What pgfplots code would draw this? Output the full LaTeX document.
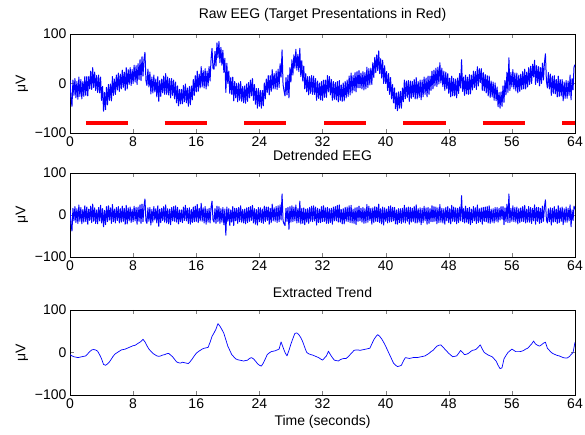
\documentclass[border=0pt]{standalone}
\usepackage{fontspec}
\setmainfont{Liberation Sans}
\usepackage{pgfplots}
\usepackage{pgfplotstable}
\pgfplotsset{compat=1.18}

% extracted trend (uV), every 0.25 s
\pgfplotstableread[row sep=\\]{
t T\\
0 -5\\ 0.25 -8\\ 0.5 -10\\ 0.75 -11\\
1 -12\\ 1.25 -11\\ 1.5 -10\\ 1.75 -9\\
2 -8\\ 2.25 -3\\ 2.5 2\\ 2.75 6\\
3 7\\ 3.25 6\\ 3.5 3\\ 3.75 -5\\
4 -15\\ 4.25 -28\\ 4.5 -30\\ 4.75 -27\\
5 -22\\ 5.25 -15\\ 5.5 -8\\ 5.75 -3\\
6 0\\ 6.25 3\\ 6.5 6\\ 6.75 7\\
7 8\\ 7.25 10\\ 7.5 12\\ 7.75 14\\
8 16\\ 8.25 17\\ 8.5 20\\ 8.75 23\\
9 26\\ 9.25 31\\ 9.5 25\\ 9.75 16\\
10 8\\ 10.25 3\\ 10.5 -2\\ 10.75 -5\\
11 -8\\ 11.25 -9\\ 11.5 -8\\ 11.75 -6\\
12 -5\\ 12.25 -3\\ 12.5 -2\\ 12.75 -6\\
13 -10\\ 13.25 -16\\ 13.5 -22\\ 13.75 -24\\
14 -25\\ 14.25 -23\\ 14.5 -24\\ 14.75 -25\\
15 -26\\ 15.25 -21\\ 15.5 -15\\ 15.75 -8\\
16 -2\\ 16.25 2\\ 16.5 5\\ 16.75 8\\
17 10\\ 17.25 11\\ 17.5 12\\ 17.75 24\\
18 38\\ 18.25 46\\ 18.5 55\\ 18.75 68\\
19 62\\ 19.25 54\\ 19.5 45\\ 19.75 30\\
20 15\\ 20.25 5\\ 20.5 -5\\ 20.75 -10\\
21 -15\\ 21.25 -17\\ 21.5 -18\\ 21.75 -19\\
22 -20\\ 22.25 -19\\ 22.5 -18\\ 22.75 -14\\
23 -12\\ 23.25 -15\\ 23.5 -20\\ 23.75 -26\\
24 -30\\ 24.25 -32\\ 24.5 -25\\ 24.75 -15\\
25 -5\\ 25.25 -1\\ 25.5 2\\ 25.75 3\\
26 4\\ 26.25 6\\ 26.5 8\\ 26.75 25\\
27 12\\ 27.25 0\\ 27.5 -8\\ 27.75 5\\
28 20\\ 28.25 33\\ 28.5 45\\ 28.75 46\\
29 42\\ 29.25 35\\ 29.5 25\\ 29.75 12\\
30 0\\ 30.25 -3\\ 30.5 -5\\ 30.75 -6\\
31 -8\\ 31.25 -10\\ 31.5 -12\\ 31.75 -15\\
32 -18\\ 32.25 -13\\ 32.5 -8\\ 32.75 3\\
33 -5\\ 33.25 -12\\ 33.5 -18\\ 33.75 -19\\
34 -20\\ 34.25 -17\\ 34.5 -15\\ 34.75 -14\\
35 -14\\ 35.25 -10\\ 35.5 -5\\ 35.75 0\\
36 5\\ 36.25 6\\ 36.5 6\\ 36.75 5\\
37 6\\ 37.25 7\\ 37.5 8\\ 37.75 9\\
38 10\\ 38.25 20\\ 38.5 30\\ 38.75 37\\
39 42\\ 39.25 38\\ 39.5 32\\ 39.75 24\\
40 15\\ 40.25 5\\ 40.5 -5\\ 40.75 -15\\
41 -25\\ 41.25 -30\\ 41.5 -33\\ 41.75 -32\\
42 -30\\ 42.25 -20\\ 42.5 -12\\ 42.75 -13\\
43 -14\\ 43.25 -13\\ 43.5 -12\\ 43.75 -12\\
44 -12\\ 44.25 -11\\ 44.5 -10\\ 44.75 -9\\
45 -8\\ 45.25 -5\\ 45.5 -2\\ 45.75 2\\
46 5\\ 46.25 10\\ 46.5 15\\ 46.75 17\\
47 18\\ 47.25 13\\ 47.5 8\\ 47.75 3\\
48 -2\\ 48.25 -6\\ 48.5 -10\\ 48.75 -9\\
49 -8\\ 49.25 -2\\ 49.5 5\\ 49.75 0\\
50 -5\\ 50.25 -4\\ 50.5 -2\\ 50.75 2\\
51 5\\ 51.25 6\\ 51.5 8\\ 51.75 13\\
52 18\\ 52.25 8\\ 52.5 0\\ 52.75 -3\\
53 -6\\ 53.25 -8\\ 53.5 -10\\ 53.75 -15\\
54 -20\\ 54.25 -30\\ 54.5 -38\\ 54.75 -36\\
55 -15\\ 55.25 -7\\ 55.5 0\\ 55.75 4\\
56 8\\ 56.25 5\\ 56.5 2\\ 56.75 2\\
57 2\\ 57.25 3\\ 57.5 5\\ 57.75 8\\
58 10\\ 58.25 15\\ 58.5 20\\ 58.75 27\\
59 20\\ 59.25 17\\ 59.5 15\\ 59.75 18\\
60 22\\ 60.25 24\\ 60.5 10\\ 60.75 5\\
61 0\\ 61.25 -3\\ 61.5 -5\\ 61.75 -7\\
62 -8\\ 62.25 -10\\ 62.5 -12\\ 62.75 -13\\
63 -13\\ 63.25 -10\\ 63.5 -5\\ 63.75 0\\
64 24\\
}\trend

% N = detrended EEG, R = raw EEG (uV), every 0.125 s
\pgfplotstableread[row sep=\\]{
t N R\\
0 12 7\\ 0.125 -22 -28\\ 0.25 -38 -46\\ 0.375 16 7\\ 0.5 -14 -24\\ 0.625 20 10\\ 0.75 -18 -29\\ 0.875 15 4\\
1 -20 -32\\ 1.125 24 13\\ 1.25 -15 -26\\ 1.375 18 8\\ 1.5 -21 -31\\ 1.625 13 4\\ 1.75 -17 -26\\ 1.875 22 14\\
2 -16 -24\\ 2.125 19 14\\ 2.25 -22 -25\\ 2.375 14 14\\ 2.5 -13 -11\\ 2.625 21 25\\ 2.75 -18 -12\\ 2.875 26 32\\
3 -15 -8\\ 3.125 17 23\\ 3.25 -20 -14\\ 3.375 12 16\\ 3.5 -21 -18\\ 3.625 18 17\\ 3.75 -14 -19\\ 3.875 23 13\\
4 -19 -34\\ 4.125 15 -6\\ 4.25 -28 -56\\ 4.375 11 -18\\ 4.5 -23 -53\\ 4.625 20 -8\\ 4.75 -16 -43\\ 4.875 22 -2\\
5 -12 -34\\ 5.125 17 -1\\ 5.25 -20 -35\\ 5.375 25 14\\ 5.5 -16 -24\\ 5.625 14 9\\ 5.75 -19 -22\\ 5.875 18 17\\
6 -13 -13\\ 6.125 20 21\\ 6.25 -19 -16\\ 6.375 15 19\\ 6.5 -17 -11\\ 6.625 21 27\\ 6.75 -15 -8\\ 6.875 16 23\\
7 -22 -14\\ 7.125 23 32\\ 7.25 -21 -11\\ 7.375 17 28\\ 7.5 -14 -2\\ 7.625 19 32\\ 7.75 -18 -4\\ 7.875 13 28\\
8 -16 0\\ 8.125 21 37\\ 8.25 -14 3\\ 8.375 18 36\\ 8.5 -22 -2\\ 8.625 19 40\\ 8.75 -15 8\\ 8.875 24 48\\
9 -20 6\\ 9.125 26 54\\ 9.25 -16 15\\ 9.375 21 49\\ 9.5 38 63\\ 9.625 -14 6\\ 9.75 -20 -4\\ 9.875 17 29\\
10 -15 -7\\ 10.125 18 23\\ 10.25 -24 -21\\ 10.375 13 13\\ 10.5 -17 -19\\ 10.625 20 17\\ 10.75 -12 -17\\ 10.875 15 9\\
11 -19 -27\\ 11.125 22 14\\ 11.25 -27 -36\\ 11.375 14 6\\ 11.5 -18 -26\\ 11.625 16 9\\ 11.75 -13 -19\\ 11.875 20 15\\
12 -17 -22\\ 12.125 24 20\\ 12.25 -19 -22\\ 12.375 15 13\\ 12.5 -21 -23\\ 12.625 14 10\\ 12.75 -23 -29\\ 12.875 18 10\\
13 -14 -24\\ 13.125 20 7\\ 13.25 -15 -31\\ 13.375 22 3\\ 13.5 -17 -39\\ 13.625 18 -5\\ 13.75 -21 -45\\ 13.875 12 -12\\
14 -16 -41\\ 14.125 12 -12\\ 14.25 -18 -41\\ 14.375 19 -4\\ 14.5 -13 -37\\ 14.625 23 -1\\ 14.75 -14 -39\\ 14.875 16 -9\\
15 -20 -46\\ 15.125 17 -6\\ 15.25 -22 -43\\ 15.375 13 -5\\ 15.5 -18 -33\\ 15.625 19 8\\ 15.75 -16 -24\\ 15.875 21 16\\
16 -15 -17\\ 16.125 25 25\\ 16.25 -18 -16\\ 16.375 16 19\\ 16.5 -14 -9\\ 16.625 28 34\\ 16.75 -15 -7\\ 16.875 17 26\\
17 -19 -9\\ 17.125 20 30\\ 17.25 -22 -11\\ 17.375 14 25\\ 17.5 -17 -5\\ 17.625 16 34\\ 17.75 -19 5\\ 17.875 18 49\\
18 33 71\\ 18.125 -12 30\\ 18.25 -17 29\\ 18.375 15 65\\ 18.5 -20 35\\ 18.625 21 82\\ 18.75 -16 52\\ 18.875 20 85\\
19 -20 42\\ 19.125 15 73\\ 19.25 -17 37\\ 19.375 18 67\\ 19.5 -23 22\\ 19.625 14 51\\ 19.75 -48 -18\\ 19.875 19 41\\
20 -15 0\\ 20.125 15 25\\ 20.25 -25 -20\\ 20.375 12 12\\ 20.5 -17 -22\\ 20.625 20 13\\ 20.75 -25 -35\\ 20.875 16 4\\
21 -14 -29\\ 21.125 16 0\\ 21.25 -20 -37\\ 21.375 18 1\\ 21.5 -16 -34\\ 21.625 22 4\\ 21.75 -17 -36\\ 21.875 13 -6\\
22 -19 -39\\ 22.125 14 -5\\ 22.25 -21 -40\\ 22.375 17 -1\\ 22.5 -18 -36\\ 22.625 18 2\\ 22.75 -15 -29\\ 22.875 20 7\\
23 -13 -25\\ 23.125 23 10\\ 23.25 -19 -34\\ 23.375 15 -2\\ 23.5 -22 -42\\ 23.625 13 -10\\ 23.75 -24 -50\\ 23.875 18 -10\\
24 -16 -46\\ 24.125 17 -14\\ 24.25 -18 -50\\ 24.375 14 -14\\ 24.5 -20 -45\\ 24.625 21 1\\ 24.75 -16 -31\\ 24.875 19 9\\
25 -13 -18\\ 25.125 19 16\\ 25.25 -22 -23\\ 25.375 16 16\\ 25.5 -18 -16\\ 25.625 26 28\\ 25.75 -14 -11\\ 25.875 17 20\\
26 -15 -11\\ 26.125 20 25\\ 26.25 -18 -12\\ 26.375 22 29\\ 26.5 -16 -8\\ 26.625 24 40\\ 26.75 -12 13\\ 26.875 50 68\\
27 -14 -2\\ 27.125 -21 -15\\ 27.25 -25 -25\\ 27.375 16 12\\ 27.5 -15 -23\\ 27.625 18 17\\ 27.75 -34 -29\\ 27.875 20 32\\
28 -17 3\\ 28.125 22 48\\ 28.25 -16 17\\ 28.375 19 58\\ 28.5 -14 31\\ 28.625 24 69\\ 28.75 -19 27\\ 28.875 15 59\\
29 -18 24\\ 29.125 33 71\\ 29.25 -21 14\\ 29.375 16 46\\ 29.5 -20 5\\ 29.625 17 35\\ 29.75 -23 -11\\ 29.875 14 20\\
30 -17 -17\\ 30.125 15 14\\ 30.25 -20 -23\\ 30.375 18 14\\ 30.5 -15 -20\\ 30.625 21 16\\ 30.75 -16 -22\\ 30.875 22 15\\
31 -14 -22\\ 31.125 19 10\\ 31.25 -24 -34\\ 31.375 16 5\\ 31.5 -18 -30\\ 31.625 14 1\\ 31.75 -18 -33\\ 31.875 20 4\\
32 -16 -34\\ 32.125 22 7\\ 32.25 -15 -28\\ 32.375 17 7\\ 32.5 -20 -28\\ 32.625 18 16\\ 32.75 -20 -17\\ 32.875 15 14\\
33 -18 -23\\ 33.125 16 8\\ 33.25 -22 -34\\ 33.375 19 4\\ 33.5 -14 -32\\ 33.625 20 2\\ 33.75 -14 -33\\ 33.875 23 4\\
34 -17 -37\\ 34.125 24 6\\ 34.25 -17 -34\\ 34.375 13 -3\\ 34.5 -21 -36\\ 34.625 15 1\\ 34.75 -21 -35\\ 34.875 18 4\\
35 -15 -29\\ 35.125 19 7\\ 35.25 -16 -26\\ 35.375 22 15\\ 35.5 -18 -23\\ 35.625 23 21\\ 35.75 -19 -19\\ 35.875 14 16\\
36 -20 -15\\ 36.125 17 22\\ 36.25 -23 -17\\ 36.375 18 24\\ 36.5 -15 -9\\ 36.625 21 26\\ 36.75 -14 -9\\ 36.875 16 21\\
37 -17 -11\\ 37.125 18 24\\ 37.25 -20 -13\\ 37.375 15 22\\ 37.5 -19 -11\\ 37.625 25 33\\ 37.75 -17 -8\\ 37.875 21 30\\
38 -13 -3\\ 38.125 16 31\\ 38.25 -22 -2\\ 38.375 17 42\\ 38.5 -18 12\\ 38.625 20 53\\ 38.75 -15 22\\ 38.875 19 58\\
39 -16 26\\ 39.125 26 66\\ 39.25 -18 20\\ 39.375 15 50\\ 39.5 -21 11\\ 39.625 19 47\\ 39.75 -24 0\\ 39.875 17 36\\
40 -15 0\\ 40.125 14 24\\ 40.25 -19 -14\\ 40.375 20 20\\ 40.5 -17 -22\\ 40.625 22 12\\ 40.75 -16 -31\\ 40.875 18 -2\\
41 -14 -39\\ 41.125 18 -9\\ 41.25 -21 -51\\ 41.375 12 -19\\ 41.5 -22 -55\\ 41.625 15 -17\\ 41.75 -18 -50\\ 41.875 15 -16\\
42 -20 -50\\ 42.125 16 -9\\ 42.25 -17 -37\\ 42.375 23 7\\ 42.5 -19 -31\\ 42.625 17 5\\ 42.75 -15 -28\\ 42.875 19 6\\
43 -22 -36\\ 43.125 18 5\\ 43.25 -17 -30\\ 43.375 16 4\\ 43.5 -15 -27\\ 43.625 20 8\\ 43.75 -19 -31\\ 43.875 24 12\\
44 -19 -31\\ 44.125 15 4\\ 44.25 -17 -28\\ 44.375 17 7\\ 44.5 -23 -33\\ 44.625 16 7\\ 44.75 -18 -27\\ 44.875 21 13\\
45 -14 -22\\ 45.125 17 11\\ 45.25 -22 -27\\ 45.375 18 15\\ 45.5 -20 -22\\ 45.625 15 15\\ 45.75 -16 -14\\ 45.875 22 25\\
46 -16 -11\\ 46.125 20 27\\ 46.25 -15 -5\\ 46.375 19 31\\ 46.5 -21 -6\\ 46.625 17 33\\ 46.75 -18 -1\\ 46.875 25 42\\
47 -17 1\\ 47.125 16 31\\ 47.25 -19 -6\\ 47.375 15 25\\ 47.5 -22 -14\\ 47.625 18 23\\ 47.75 -14 -11\\ 47.875 20 20\\
48 -18 -20\\ 48.125 15 11\\ 48.25 -21 -27\\ 48.375 23 15\\ 48.5 -15 -25\\ 48.625 19 10\\ 48.75 -16 -25\\ 48.875 17 9\\
49 -21 -29\\ 49.125 16 11\\ 49.25 -18 -20\\ 49.375 19 20\\ 49.5 -14 -9\\ 49.625 46 48\\ 49.75 -16 -16\\ 49.875 15 13\\
50 -19 -24\\ 50.125 21 17\\ 50.25 -17 -21\\ 50.375 16 13\\ 50.5 -20 -22\\ 50.625 18 18\\ 50.75 -23 -21\\ 50.875 14 17\\
51 -18 -13\\ 51.125 20 25\\ 51.25 -14 -8\\ 51.375 17 24\\ 51.5 -20 -12\\ 51.625 24 34\\ 51.75 -18 -5\\ 51.875 15 30\\
52 -16 2\\ 52.125 17 30\\ 52.25 -22 -14\\ 52.375 18 22\\ 52.5 -15 -15\\ 52.625 19 18\\ 52.75 -16 -19\\ 52.875 20 16\\
53 -19 -25\\ 53.125 22 15\\ 53.25 -20 -28\\ 53.375 14 5\\ 53.5 -17 -27\\ 53.625 15 3\\ 53.75 -19 -34\\ 53.875 18 1\\
54 -15 -35\\ 54.125 18 -7\\ 54.25 -17 -47\\ 54.375 16 -18\\ 54.5 -12 -50\\ 54.625 20 -17\\ 54.75 -10 -46\\ 54.875 20 -5\\
55 -23 -38\\ 55.125 17 6\\ 55.25 -16 -23\\ 55.375 26 23\\ 55.5 -18 -18\\ 55.625 50 52\\ 55.75 -18 -14\\ 55.875 16 22\\
56 -15 -7\\ 56.125 22 28\\ 56.25 -16 -11\\ 56.375 18 21\\ 56.5 -17 -15\\ 56.625 19 21\\ 56.75 -21 -19\\ 56.875 15 17\\
57 -18 -16\\ 57.125 17 19\\ 57.25 -15 -12\\ 57.375 20 24\\ 57.5 -16 -11\\ 57.625 23 29\\ 57.75 -19 -11\\ 57.875 14 23\\
58 -17 -7\\ 58.125 20 32\\ 58.25 -17 -2\\ 58.375 18 35\\ 58.5 -20 0\\ 58.625 16 39\\ 58.75 -14 13\\ 58.875 24 47\\
59 -22 -2\\ 59.125 18 36\\ 59.25 -15 2\\ 59.375 18 34\\ 59.5 -20 -5\\ 59.625 16 32\\ 59.75 -18 0\\ 59.875 21 41\\
60 -15 7\\ 60.125 19 42\\ 60.25 36 60\\ 60.375 -12 5\\ 60.5 -19 -9\\ 60.625 15 22\\ 60.75 -16 -11\\ 60.875 17 19\\
61 -24 -24\\ 61.125 16 15\\ 61.25 -17 -20\\ 61.375 20 16\\ 61.5 -16 -21\\ 61.625 14 8\\ 61.75 -20 -27\\ 61.875 22 15\\
62 -18 -26\\ 62.125 17 8\\ 62.25 -15 -25\\ 62.375 19 8\\ 62.5 -23 -35\\ 62.625 15 3\\ 62.75 -17 -30\\ 62.875 19 6\\
63 -17 -30\\ 63.125 16 5\\ 63.25 -14 -24\\ 63.375 24 17\\ 63.5 -28 -33\\ 63.625 12 10\\ 63.75 -13 -13\\ 63.875 21 33\\
64 14 38\\
}\eeg

\pgfplotsset{
  eegaxis/.style={
    scale only axis, width=505pt,
    xmin=0, xmax=64, ymin=-100, ymax=100,
    xtick={0,8,...,64},
    ytick={-100,0,100}, yticklabels={−100,0,100},
    tick align=inside, tick pos=both, major tick length=4pt,
    /pgf/number format/assume math mode=true,
    ylabel={μV},
    title style={yshift=3pt},
    every axis plot/.append style={no markers, line join=round},
  },
}

\begin{document}
\begin{tikzpicture}[font=\fontsize{14}{16}\selectfont]
\useasboundingbox (-70pt,-40pt) rectangle (515pt,395pt);

\begin{axis}[eegaxis, at={(0,262pt)}, height=99pt,
    title={Raw EEG (Target Presentations in Red)},
    unbounded coords=jump]
  \addplot[blue, line width=1pt] table[x=t, y=R] {\eeg};
  \addplot[red, line width=4.3pt] coordinates {
    (2,-80) (7.3,-80) (7.5,nan)
    (12,-80) (17.35,-80) (17.5,nan)
    (22.1,-80) (27.4,-80) (27.5,nan)
    (32.2,-80) (37.5,-80) (37.6,nan)
    (42.2,-80) (47.6,-80) (47.7,nan)
    (52.3,-80) (57.6,-80) (57.7,nan)
    (62.4,-80) (64,-80)};
\end{axis}

\begin{axis}[eegaxis, at={(0,138pt)}, height=84pt,
    title={Detrended EEG}]
  \addplot[blue, line width=1pt] table[x=t, y=N] {\eeg};
\end{axis}

\begin{axis}[eegaxis, at={(0,0)}, height=85pt,
    title={Extracted Trend},
    xlabel={Time (seconds)}]
  \addplot[blue, line width=0.7pt] table[x=t, y=T] {\trend};
\end{axis}
\end{tikzpicture}
\end{document}
